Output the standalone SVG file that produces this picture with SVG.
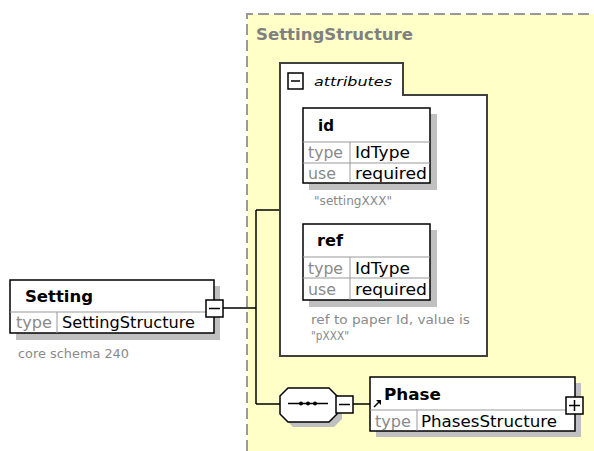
<svg xmlns="http://www.w3.org/2000/svg" width="594" height="451" viewBox="0 0 594 451">
<style>
.box{fill:#fff;stroke:#000;stroke-width:1.5}
.sh{fill:#c0c0c0}
.row{fill:none;stroke:#999;stroke-width:1}
.t{font-family:"DejaVu Sans","Liberation Sans",sans-serif;font-size:15px;fill:#000}
.g{fill:#8a8a8a}
.b{font-weight:bold;font-size:16px}
.ann{font-family:"DejaVu Sans","Liberation Sans",sans-serif;font-size:12px;fill:#8a8a8a}
.btn{fill:#fff;stroke:#000;stroke-width:1.5}
.ln{fill:none;stroke:#000;stroke-width:1.5}
</style>
<rect width="594" height="451" fill="#fff"/>
<g id="SettingStructure">
<rect x="247" y="14" width="347" height="437" fill="#ffffc8"/>
<path d="M247,451 V14 H594" fill="none" stroke="#999" stroke-width="2" stroke-dasharray="11,5"/>
<text x="256" y="40" class="t b g" textLength="157" lengthAdjust="spacingAndGlyphs" style="fill:#808080">SettingStructure</text>
</g>
<g id="connectors">
<path class="ln" d="M223,308 H256 M256,210 V404 M256,210 H281 M256,404 H281 M353,404 H370"/>
</g>
<g id="attributes">
<path d="M280,63 H403 V95 H487 V356 H280 Z" fill="#fff" stroke="#404040" stroke-width="2"/>
<rect x="288" y="73" width="15" height="16" class="btn"/>
<path d="M291,81 H300" class="ln"/>
<text x="314" y="86" class="t" style="font-style:italic;font-size:13px" textLength="78" lengthAdjust="spacingAndGlyphs">attributes</text>
</g>
<g id="id">
<rect x="309" y="114" width="128" height="76" class="sh"/>
<rect x="303" y="108" width="127" height="75" class="box"/>
<path class="row" d="M303,142 H430 M303,163 H430 M350,142 V183"/>
<text x="318" y="131" class="t b" textLength="16" lengthAdjust="spacingAndGlyphs">id</text>
<text x="308" y="158" class="t g" textLength="35" lengthAdjust="spacingAndGlyphs">type</text>
<text x="355" y="158" class="t" textLength="55" lengthAdjust="spacingAndGlyphs">IdType</text>
<text x="308" y="179" class="t g" textLength="28" lengthAdjust="spacingAndGlyphs">use</text>
<text x="355" y="179" class="t" textLength="72" lengthAdjust="spacingAndGlyphs">required</text>
<text x="314" y="205" class="ann" textLength="78" lengthAdjust="spacingAndGlyphs">"settingXXX"</text>
</g>
<g id="ref">
<rect x="309" y="230" width="128" height="77" class="sh"/>
<rect x="303" y="224" width="127" height="76" class="box"/>
<path class="row" d="M303,257 H430 M303,278 H430 M350,257 V300"/>
<text x="317" y="246" class="t b" textLength="26" lengthAdjust="spacingAndGlyphs">ref</text>
<text x="308" y="274" class="t g" textLength="35" lengthAdjust="spacingAndGlyphs">type</text>
<text x="355" y="274" class="t" textLength="55" lengthAdjust="spacingAndGlyphs">IdType</text>
<text x="308" y="295" class="t g" textLength="28" lengthAdjust="spacingAndGlyphs">use</text>
<text x="355" y="295" class="t" textLength="72" lengthAdjust="spacingAndGlyphs">required</text>
<text x="311" y="324" class="ann" textLength="159" lengthAdjust="spacingAndGlyphs">ref to paper Id, value is</text>
<text x="311" y="340" class="ann" textLength="38" lengthAdjust="spacingAndGlyphs">"pXXX"</text>
</g>
<g id="Setting">
<rect x="16" y="286" width="204" height="54" class="sh"/>
<rect x="10" y="280" width="204" height="53" class="box"/>
<path class="row" d="M10,312 H214 M57,312 V333"/>
<text x="25" y="302" class="t b" textLength="68" lengthAdjust="spacingAndGlyphs">Setting</text>
<text x="16" y="328" class="t g" textLength="36" lengthAdjust="spacingAndGlyphs">type</text>
<text x="62" y="328" class="t" textLength="133" lengthAdjust="spacingAndGlyphs">SettingStructure</text>
<rect x="206" y="300" width="17" height="17" class="btn"/>
<path d="M209,308.5 H220" class="ln"/>
<text x="18" y="358" class="ann" textLength="111" lengthAdjust="spacingAndGlyphs">core schema 240</text>
</g>
<g id="sequence">
<path d="M280,396 L288,388 H329 L337,396 V414 L329,422 H288 L280,414 Z" transform="translate(5,5)" class="sh"/>
<path d="M280,396 L288,388 H329 L337,396 V414 L329,422 H288 L280,414 Z" fill="#fff" stroke="#000" stroke-width="1.5"/>
<path d="M288,403.5 H328" class="ln"/>
<circle cx="301" cy="403.5" r="2" fill="#000"/>
<circle cx="308" cy="403.5" r="2" fill="#000"/>
<circle cx="315" cy="403.5" r="2" fill="#000"/>
<rect x="336" y="396" width="17" height="17" class="btn"/>
<path d="M339,404.5 H350" class="ln"/>
</g>
<g id="Phase">
<rect x="376" y="383" width="205" height="54" class="sh"/>
<rect x="370" y="377" width="205" height="54" class="box"/>
<path class="row" d="M370,410 H575 M417,410 V431"/>
<path d="M374,407 L380,401" stroke="#000" stroke-width="1.5"/>
<path d="M376,400 H381 V405 Z" fill="#000"/>
<text x="384" y="400" class="t b" textLength="57" lengthAdjust="spacingAndGlyphs">Phase</text>
<text x="375" y="427" class="t g" textLength="36" lengthAdjust="spacingAndGlyphs">type</text>
<text x="421" y="427" class="t" textLength="136" lengthAdjust="spacingAndGlyphs">PhasesStructure</text>
<rect x="566" y="397" width="17" height="17" class="btn"/>
<path d="M569,405.5 H580 M574.5,400 V411" class="ln"/>
</g>
</svg>
